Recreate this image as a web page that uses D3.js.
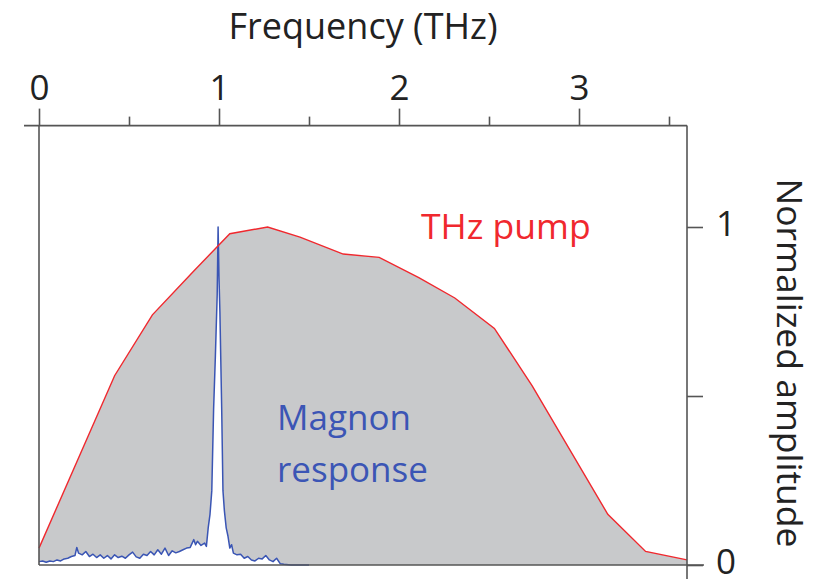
<!DOCTYPE html>
<html>
<head>
<meta charset="utf-8">
<script src="https://cdn.jsdelivr.net/npm/d3@7"></script>
<style>
  body { margin: 0; background: #fff; }
  svg { display: block; font-family: "Open Sans", sans-serif; }
</style>
</head>
<body>
<svg width="825" height="579"></svg>
<script>
// THz pump spectrum (frequency in THz, normalized amplitude)
const pumpFreq = [0, 0.42, 0.63, 0.86, 1.06, 1.27, 1.45, 1.69, 1.89, 2.11, 2.31, 2.53, 2.74, 3.16, 3.37, 3.6];
const pumpAmp = [0.05, 0.56, 0.74, 0.87, 0.98, 1.0, 0.97, 0.92, 0.91, 0.85, 0.79, 0.70, 0.53, 0.15, 0.04, 0.015];

// magnon response spectrum
const magnonFreq = [
  0, 0.02, 0.04, 0.06, 0.08, 0.10, 0.12, 0.14, 0.16, 0.18, 0.20, 0.21, 0.22, 0.24, 0.26, 0.28,
  0.30, 0.32, 0.34, 0.36, 0.38, 0.40, 0.42, 0.44, 0.46, 0.48, 0.50, 0.52, 0.54, 0.56, 0.58,
  0.60, 0.62, 0.64, 0.66, 0.68, 0.70, 0.72, 0.74, 0.76, 0.78, 0.80, 0.82, 0.84, 0.86, 0.87,
  0.88, 0.90, 0.92, 0.93, 0.94, 0.95, 0.96, 0.97, 0.98, 0.99, 0.995, 1.00, 1.005, 1.015,
  1.022, 1.03, 1.04, 1.05, 1.06, 1.07, 1.08, 1.10, 1.12, 1.14, 1.16, 1.18, 1.20, 1.22,
  1.24, 1.26, 1.28, 1.30, 1.32, 1.34, 1.36, 1.40, 1.50
];
const magnonAmp = [
  0.010, 0.012, 0.008, 0.012, 0.010, 0.015, 0.012, 0.018, 0.020, 0.025, 0.028, 0.052, 0.035, 0.030, 0.040, 0.025,
  0.032, 0.022, 0.030, 0.020, 0.028, 0.018, 0.030, 0.022, 0.026, 0.020, 0.030, 0.038, 0.024, 0.020, 0.032,
  0.028, 0.040, 0.030, 0.045, 0.032, 0.050, 0.028, 0.042, 0.036, 0.040, 0.045, 0.050, 0.052, 0.075, 0.060,
  0.070, 0.058, 0.065, 0.055, 0.110, 0.150, 0.220, 0.460, 0.620, 0.800, 1.000, 0.850, 0.750, 0.460,
  0.220, 0.160, 0.110, 0.085, 0.050, 0.060, 0.035, 0.030, 0.032, 0.020, 0.025, 0.015, 0.012, 0.020,
  0.018, 0.028, 0.015, 0.010, 0.020, 0.004, 0.002, 0.000, 0.000
];

const xTicks = [0, 1, 2, 3];
const xMinorTicks = [0.5, 1.5, 2.5, 3.5];
const yTicks = [0, 0.5, 1];

const pump = pumpFreq.map((f, i) => ({f, a: pumpAmp[i]}));
const magnon = magnonFreq.map((f, i) => ({f, a: magnonAmp[i]}));

const svg = d3.select('svg');
const axisColor = '#555';

const x = d3.scaleLinear().domain([0, 3.6]).range([39, 687]);
const y = d3.scaleLinear().domain([0, 1.3]).range([565, 125.6]);

// filled pump spectrum
svg.append('path')
  .datum(pump)
  .attr('fill', '#c8c9cb')
  .attr('d', d3.area().x(d => x(d.f)).y0(y(0)).y1(d => y(d.a)));

// magnon response cut out in white
svg.append('path')
  .datum(magnon)
  .attr('fill', '#fff')
  .attr('d', d3.area().x(d => x(d.f)).y0(y(0)).y1(d => y(d.a)));

svg.append('path')
  .datum(magnon)
  .attr('fill', 'none')
  .attr('stroke', '#3a55b4')
  .attr('stroke-width', 1.5)
  .attr('stroke-linejoin', 'round')
  .attr('d', d3.line().x(d => x(d.f)).y(d => y(d.a)));

svg.append('path')
  .datum(pump)
  .attr('fill', 'none')
  .attr('stroke', '#f0282e')
  .attr('stroke-width', 1.4)
  .attr('d', d3.line().x(d => x(d.f)).y(d => y(d.a)));

// frame
const frame = svg.append('g')
  .attr('stroke', axisColor)
  .attr('stroke-width', 1.6);
frame.append('line')
  .attr('x1', x(0)).attr('x2', x(0))
  .attr('y1', y(1.3)).attr('y2', y(0));
frame.append('line')
  .attr('x1', x(0)).attr('x2', x(3.6) + 17)
  .attr('y1', y(0)).attr('y2', y(0));
frame.append('line')
  .attr('x1', x(3.6)).attr('x2', x(3.6))
  .attr('y1', y(1.3)).attr('y2', y(0) + 15);
frame.append('line')
  .attr('x1', x(0) - 15).attr('x2', x(3.6))
  .attr('y1', y(1.3)).attr('y2', y(1.3));

// top frequency axis
const gx = svg.append('g')
  .attr('transform', `translate(0,${y(1.3)})`)
  .call(d3.axisTop(x)
    .tickValues(xTicks)
    .tickSize(17)
    .tickSizeOuter(0)
    .tickPadding(9)
    .tickFormat(d3.format('d')));
gx.select('.domain').remove();

const gxMinor = svg.append('g')
  .attr('transform', `translate(0,${y(1.3)})`)
  .call(d3.axisTop(x)
    .tickValues(xMinorTicks)
    .tickSize(9)
    .tickFormat(''));
gxMinor.select('.domain').remove();

// right amplitude axis
const gy = svg.append('g')
  .attr('transform', `translate(${x(3.6)},0)`)
  .call(d3.axisRight(y)
    .tickValues(yTicks)
    .tickSize(16)
    .tickPadding(13)
    .tickFormat(d => d === 0.5 ? '' : d3.format('d')(d)));
gy.select('.domain').remove();

svg.selectAll('.tick line')
  .attr('stroke', axisColor)
  .attr('stroke-width', 1.6);
svg.selectAll('.tick text')
  .attr('fill', '#222')
  .attr('font-family', '"Open Sans", sans-serif')
  .attr('font-size', 35);
gy.selectAll('.tick text').attr('dy', '0.25em');

// titles
svg.append('text')
  .attr('x', 363)
  .attr('y', 39)
  .attr('text-anchor', 'middle')
  .attr('fill', '#222')
  .attr('font-size', 36)
  .text('Frequency (THz)');

svg.append('text')
  .attr('transform', 'translate(777,363) rotate(90)')
  .attr('text-anchor', 'middle')
  .attr('fill', '#222')
  .attr('font-size', 35.5)
  .text('Normalized amplitude');

// labels
svg.append('text')
  .attr('x', 421)
  .attr('y', 239)
  .attr('fill', '#f0282e')
  .attr('font-size', 35.5)
  .text('THz pump');

const mag = svg.append('text')
  .attr('x', 277)
  .attr('y', 430)
  .attr('fill', '#3b55b5')
  .attr('font-size', 35);
mag.append('tspan').attr('x', 277).text('Magnon');
mag.append('tspan').attr('x', 277).attr('dy', 52).text('response');
</script>
</body>
</html>
